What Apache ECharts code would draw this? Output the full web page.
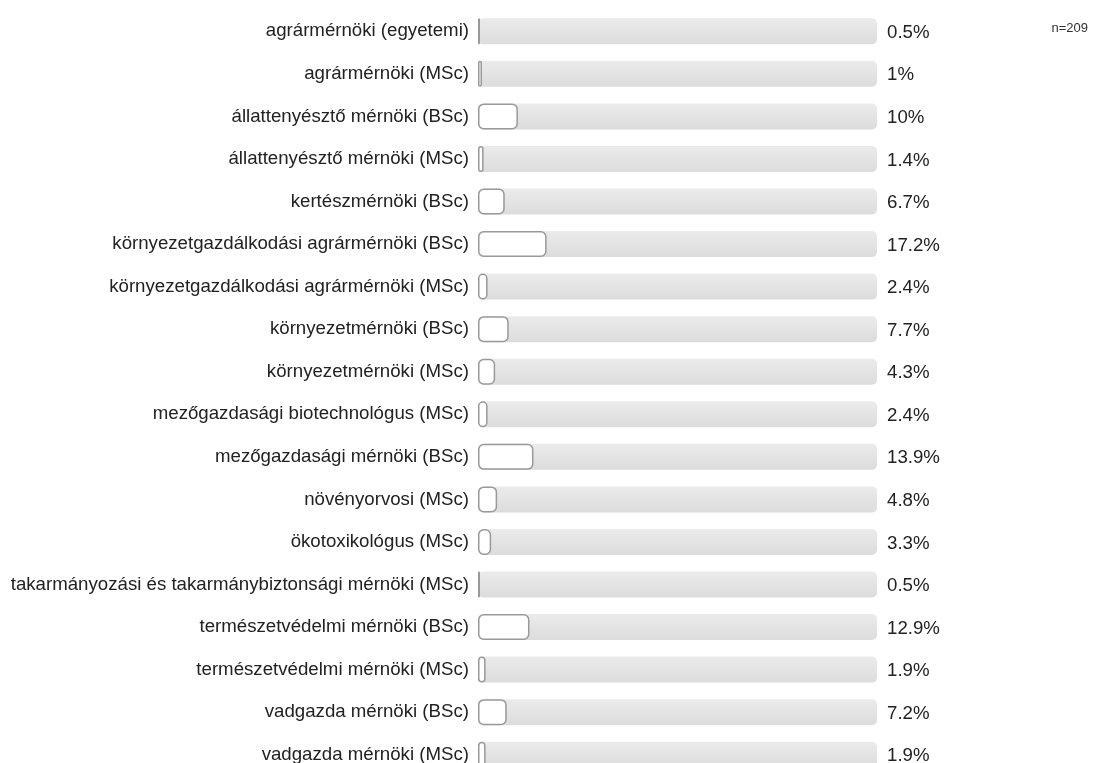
<!DOCTYPE html>
<html>
<head>
<meta charset="utf-8">
<script src="https://cdn.jsdelivr.net/npm/echarts@6/dist/echarts.min.js"></script>
<style>
html,body{margin:0;padding:0;background:#fff;}
#chart{width:1097px;height:763px;}
</style>
</head>
<body>
<div id="chart"></div>
<script>
const categories = [
  "agrármérnöki (egyetemi)",
  "agrármérnöki (MSc)",
  "állattenyésztő mérnöki (BSc)",
  "állattenyésztő mérnöki (MSc)",
  "kertészmérnöki (BSc)",
  "környezetgazdálkodási agrármérnöki (BSc)",
  "környezetgazdálkodási agrármérnöki (MSc)",
  "környezetmérnöki (BSc)",
  "környezetmérnöki (MSc)",
  "mezőgazdasági biotechnológus (MSc)",
  "mezőgazdasági mérnöki (BSc)",
  "növényorvosi (MSc)",
  "ökotoxikológus (MSc)",
  "takarmányozási és takarmánybiztonsági mérnöki (MSc)",
  "természetvédelmi mérnöki (BSc)",
  "természetvédelmi mérnöki (MSc)",
  "vadgazda mérnöki (BSc)",
  "vadgazda mérnöki (MSc)"
];
const values = [0.5, 1, 10, 1.4, 6.7, 17.2, 2.4, 7.7, 4.3, 2.4, 13.9, 4.8, 3.3, 0.5, 12.9, 1.9, 7.2, 1.9];
const trackMax = [100,100,100,100,100,100,100,100,100,100,100,100,100,100,100,100,100,100];
const sampleNote = "n=209";

const chart = echarts.init(document.getElementById('chart'), null, {renderer: 'canvas'});
const FONT = 'Liberation Sans, Arial, sans-serif';
chart.setOption({
  animation: false,
  backgroundColor: '#ffffff',
  title: {
    text: sampleNote,
    right: 4,
    top: 17,
    textStyle: {fontSize: 13, fontWeight: 'normal', color: '#333', fontFamily: FONT}
  },
  grid: {left: 478, top: 10, width: 399, height: 766, containLabel: false, outerBoundsMode: 'none'},
  xAxis: {
    type: 'value', min: 0, max: 100, show: false
  },
  yAxis: {
    type: 'category',
    data: categories,
    inverse: true,
    axisLine: {show: false},
    axisTick: {show: false},
    splitLine: {show: false},
    axisLabel: {fontSize: 18.67, color: '#222', fontFamily: FONT, margin: 9, padding: [3, 0, 0, 0]}
  },
  series: [
    {
      type: 'bar',
      data: trackMax,
      barWidth: 26,
      barGap: '-100%',
      silent: true,
      itemStyle: {
        borderRadius: 5,
        color: new echarts.graphic.LinearGradient(0, 0, 0, 1, [
          {offset: 0, color: '#ebebeb'},
          {offset: 1, color: '#dcdcdc'}
        ])
      },
      label: {
        show: true,
        position: 'right',
        distance: 10,
        offset: [0, 1.5],
        fontSize: 18.67,
        color: '#222',
        fontFamily: FONT,
        formatter: p => values[p.dataIndex] + '%'
      }
    },
    {
      type: 'bar',
      data: values,
      barWidth: 26,
      barGap: '-100%',
      itemStyle: {
        color: '#ffffff',
        borderColor: '#999999',
        borderWidth: 1.5,
        borderRadius: 5
      }
    }
  ]
});
</script>
</body>
</html>
